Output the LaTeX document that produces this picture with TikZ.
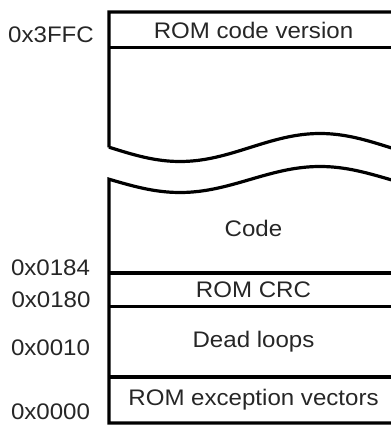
\documentclass[tikz,border=0pt]{standalone}
\usepackage{fontspec}
\setmainfont{Liberation Sans}[FakeStretch=1.07]
\begin{document}
\begin{tikzpicture}[x=1pt,y=-1pt,
  wall/.style={line width=3.2pt, line join=miter},
  wave/.style={line width=3pt},
  lbl/.style={inner sep=0pt, text=black!85, font=\fontsize{22.5}{26}\selectfont},
  addr/.style={inner sep=0pt, text=black!85, font=\fontsize{22.5}{26}\selectfont}]
\useasboundingbox (0,0) rectangle (390,427);
% top part
\draw[wall] (392,12) -- (109,12) -- (109,147.5)
  -- plot[domain=109:392, samples=80] (\x, {147.5+14*cos(1.285714*(\x-180))});
\draw[wall] (109,47.5) -- (392,47.5);
% bottom part
\draw[wall] (392,423) -- (109,423) -- (109,179.5)
  -- plot[domain=109:392, samples=80] (\x, {179.5+13*cos(1.285714*(\x-180))});
\draw[wall] (109,273) -- (392,273);
\draw[wall] (109,306.5) -- (392,306.5);
\draw[wall] (109,377) -- (392,377);
% region texts
\node[lbl] (ver) at (253.5,30) {ROM code version};
\node[lbl] (code) at (253.5,228) {Code};
\node[lbl] (crc) at (253.5,289.5) {ROM CRC};
\node[lbl] (dead) at (253.5,341.5) {Dead loops};
\node[lbl] (vec) at (253.5,400) {ROM exception vectors};
% addresses
\node[addr] (a1) at (51,35) {0x3FFC};
\node[addr] (a2) at (50.5,268) {0x0184};
\node[addr] (a3) at (51,300) {0x0180};
\node[addr] (a4) at (50.5,348) {0x0010};
\node[addr] (a5) at (50.5,412) {0x0000};
\end{tikzpicture}
\end{document}
